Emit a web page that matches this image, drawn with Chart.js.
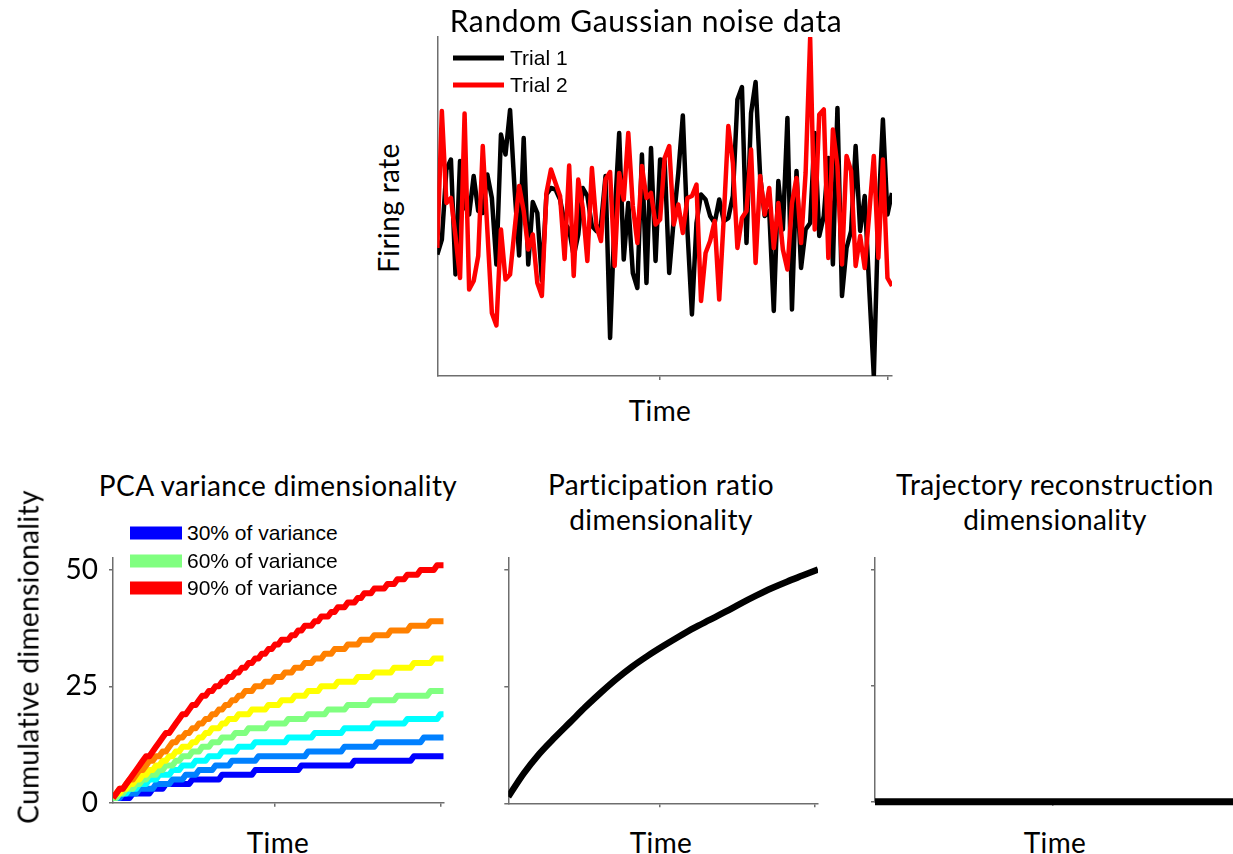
<!DOCTYPE html>
<html>
<head>
<meta charset="utf-8">
<script src="https://cdn.jsdelivr.net/npm/chart.js@4.4.0/dist/chart.umd.min.js"></script>
<style>
  html, body { margin: 0; padding: 0; background: #fff; width: 1233px; height: 854px; overflow: hidden; position: relative; }
  canvas { position: absolute; }
  .t { position: absolute; transform: translate(-50%, -50%); font-family: Lato, sans-serif; font-size: 28px; letter-spacing: 0.4px; color: #000; white-space: nowrap; text-align: center; line-height: 35px; }
  .rot { transform: translate(-50%, -50%) rotate(-90deg); }
  .lg { position: absolute; font-family: "Liberation Sans", Arial, sans-serif; font-size: 21px; white-space: nowrap; transform: translateY(-50%); }
  .sw { position: absolute; transform: translateY(-50%); }
</style>
</head>
<body>

<canvas id="noiseChart" width="470" height="356" style="left:430px;top:30px"></canvas>
<canvas id="pcaChart" width="420" height="262" style="left:40px;top:550px"></canvas>
<canvas id="prChart" width="340" height="262" style="left:495px;top:550px"></canvas>
<canvas id="trajChart" width="400" height="262" style="left:862px;top:550px"></canvas>

<div class="t" style="left:646px;top:20px;font-size:30px;letter-spacing:0.6px">Random Gaussian noise data</div>
<div class="t rot" style="left:388px;top:208px">Firing rate</div>
<div class="t" style="left:660px;top:410px">Time</div>

<div class="sw" style="left:453px;top:58px;width:51px;height:5px;background:#000"></div>
<div class="lg" style="left:510px;top:58px">Trial 1</div>
<div class="sw" style="left:453px;top:85px;width:51px;height:5px;background:#f00"></div>
<div class="lg" style="left:510px;top:85px">Trial 2</div>

<div class="t" style="left:278px;top:485px">PCA variance dimensionality</div>
<div class="t" style="left:661px;top:502px">Participation ratio<br>dimensionality</div>
<div class="t" style="left:1055px;top:502px">Trajectory reconstruction<br>dimensionality</div>
<div class="t rot" style="left:28px;top:657px">Cumulative dimensionality</div>
<div class="t" style="left:278px;top:842px">Time</div>
<div class="t" style="left:661px;top:842px">Time</div>
<div class="t" style="left:1055px;top:842px">Time</div>

<div class="sw" style="left:130px;top:533px;width:52px;height:13px;background:#0000ff"></div>
<div class="lg" style="left:187px;top:533px">30% of variance</div>
<div class="sw" style="left:130px;top:561px;width:52px;height:13px;background:#80ff80"></div>
<div class="lg" style="left:187px;top:561px">60% of variance</div>
<div class="sw" style="left:130px;top:588px;width:52px;height:13px;background:#ff0000"></div>
<div class="lg" style="left:187px;top:588px">90% of variance</div>

<script>
// time index shared by all panels (1..101)
const timeSteps = Array.from({ length: 101 }, (_, i) => i + 1);

// top panel: two trials of noise
const trial1 = [-0.98, -0.68, 0.72, 0.92, -1.38, 0.89, -0.01, -0.18, 0.59, -0.11,
  -0.15, 0.62, 0.15, -1.18, 1.42, 1.02, 1.91, 0.32, -1.0, 1.35,
  -1.18, 0.07, -0.15, -1.5, 0.22, 0.35, 0.32, 0.12, -0.35, -0.48,
  -1.01, -0.58, 0.35, 0.19, -0.41, -0.51, -0.38, 0.59, -2.65, -0.21,
  1.45, -1.08, 0.05, -1.35, -1.65, 1.02, -1.55, 1.15, -1.11, 0.92,
  0.89, -1.35, -0.28, 0.65, 1.8, -0.48, -2.18, -0.35, 0.22, 0.12,
  -0.21, -0.35, 0.12, -0.31, -0.25, 0.19, 2.12, 2.37, -0.75, 1.85,
  2.47, 0.59, -0.21, -0.11, -2.11, 0.49, -0.48, 1.75, -2.08, 0.69,
  -1.25, -0.48, -0.35, 1.45, -0.61, -0.21, 0.95, -1.18, 1.95, -1.81,
  -0.85, -0.51, 1.19, -0.51, 0.19, -1.68, -3.41, -0.18, 1.72, -0.18, 0.25];

const trial2 = [-0.85, 1.89, 0.05, 0.15, -0.61, -1.45, 1.84, -1.68, -1.51, -1.01,
  1.19, -0.48, -2.15, -2.4, -0.48, -1.48, -1.38, -0.48, 0.39, -0.11,
  -0.88, -0.58, -1.55, -1.81, 0.25, 0.72, 0.45, 0.19, -1.07, 0.8,
  -1.41, 0.52, -0.05, -1.11, 0.75, -0.41, -0.71, 0.52, 0.67, -1.21,
  0.65, 0.12, 1.45, -0.01, -0.75, 0.79, 0.15, 0.25, -0.38, -0.28,
  0.95, 1.19, -0.38, 0.02, -0.55, 0.15, 0.19, 0.42, -1.91, -0.95,
  -0.71, -0.31, -1.88, -0.25, 1.59, 0.85, -0.85, -0.25, -0.11, 1.12,
  -1.15, 0.59, -0.18, 0.35, -0.85, 0.05, -0.88, -1.28, 0.05, 0.55,
  -0.75, 0.65, 3.35, -0.48, 1.82, 1.92, -1.05, 1.52, 0.79, -1.18,
  0.99, 0.69, -1.21, -0.61, -1.25, -0.15, 0.99, -1.05, 0.92, -1.45, -1.61];

// bottom-left panel: cumulative PCA dimensionality per variance threshold
const pcaLabels = ['30%', '40%', '50%', '60%', '70%', '80%', '90%'];
const pcaColors = ['#0000ff', '#0080ff', '#00ffff', '#80ff80', '#ffff00', '#ff8000', '#ff0000'];
const pca30 = [1,1,1,1,1,1, 2,2,2,2,2,2, 3,3,3,3, 4,4,4,4,4,4,4,4, 5,5,5,5,5,5,5,5,5,
  6,6,6,6,6,6,6,6,6,6, 7,7,7,7,7,7,7,7,7,7,7,7,7,7, 8,8,8,8,8,8,8,8,8,8,8,8,8,8,8,8,
  9,9,9,9,9,9,9,9,9,9,9,9,9,9,9,9,9,9, 10,10,10,10,10,10,10,10,10,10];
const pca40 = [1,1,1, 2,2,2,2,2, 3,3,3,3,3, 4,4,4,4,4, 5,5,5,5, 6,6,6,6, 7,7,7,7,7, 8,8,8,8,8,
  9,9,9,9,9,9,9,9, 10,10,10,10,10,10,10,10,10,10,10,10,10,10,10, 11,11,11,11,11,11,11,11,11,11,11,
  12,12,12,12,12,12,12,12,12,12, 13,13,13,13,13,13,13,13,13,13,13,13,13,13, 14,14,14,14,14,14,14];
const pca50 = [1,1, 2,2,2, 3,3,3, 4,4,4, 5,5,5, 6,6,6,6, 7,7,7, 8,8,8,8, 9,9,9,9, 10,10,10,10,
  11,11,11,11,11, 12,12,12,12,12, 13,13,13,13,13,13,13,13,13,13, 14,14,14,14,14,14,14,14,
  15,15,15,15,15,15,15,15,15, 16,16,16,16,16,16,16,16,16, 17,17,17,17,17,17,17,17,17,17,
  18,18,18,18,18,18,18,18,18,18, 19,19];
const pca60 = [1,1, 2,2, 3,3,3, 4,4, 5,5, 6,6,6, 7,7, 8,8,8, 9,9, 10,10,10, 11,11,11, 12,12,12,
  13,13,13, 14,14,14,14, 15,15,15,15, 16,16,16,16,16,16, 17,17,17,17,17,17, 18,18,18,18,18,18,
  19,19,19,19,19,19, 20,20,20,20,20,20, 21,21,21,21,21,21,21, 22,22,22,22,22,22,22,22,
  23,23,23,23,23,23,23,23,23,23, 24,24,24,24,24];
const pca70 = [1, 2,2, 3,3, 4,4, 5,5, 6,6, 7,7, 8,8, 9,9, 10,10, 11,11, 12,12,12, 13,13, 14,14,
  15,15, 16,16,16, 17,17, 18,18,18, 19,19,19,19, 20,20,20,20,20, 21,21,21,21, 22,22,22,22,
  23,23,23,23, 24,24,24,24, 25,25,25,25,25, 26,26,26,26,26,26, 27,27,27,27,27,
  28,28,28,28,28,28, 29,29,29,29,29,29, 30,30,30,30,30,30, 31,31,31,31];
const pca80 = [1, 2, 3,3, 4, 5,5, 6, 7,7, 8, 9,9, 10,10, 11,11, 12, 13,13, 14,14, 15,15, 16,16,
  17,17, 18,18, 19,19, 20,20, 21,21, 22,22, 23,23, 24,24,24, 25,25,25, 26,26,26, 27,27,27,
  28,28,28, 29,29,29, 30,30,30, 31,31,31, 32,32,32, 33,33,33,33, 34,34,34,34, 35,35,35,35,
  36,36,36,36,36, 37,37,37,37,37,37, 38,38,38,38,38,38, 39,39,39,39,39];
const pca90 = [1, 2, 3,3, 4, 5, 6, 7, 8, 9, 10,10, 11, 12, 13, 14, 15,15, 16, 17, 18, 19,19, 20,
  21,21, 22, 23,23, 24,24, 25,25, 26,26, 27,27, 28,28, 29,29, 30,30, 31,31, 32,32, 33,33,
  34,34, 35,35,35, 36,36, 37,37, 38,38,38, 39,39, 40,40,40, 41,41, 42,42,42, 43,43,43,
  44,44, 45,45,45, 46,46,46,46, 47,47,47, 48,48,48, 49,49,49,49, 50,50,50,50,50, 51,51,51,51, 52];
const pcaSeries = [pca30, pca40, pca50, pca60, pca70, pca80, pca90];

// bottom-middle panel: participation ratio, sampled every 5 time steps
const prTime = [1, 6, 11, 16, 21, 26, 31, 36, 41, 46, 51, 56, 61, 66, 71, 76, 81, 86, 91, 96, 101];
const prValues = [1.4, 6.4, 10.6, 14.1, 17.4, 20.7, 23.8, 26.7, 29.3, 31.6, 33.7,
  35.7, 37.6, 39.3, 41.0, 42.8, 44.5, 46.1, 47.5, 48.8, 50.1];

// bottom-right panel: trajectory reconstruction stays at zero
const trajTime = [1, 101];
const trajValues = [0, 0];

const axisColor = '#6e6e6e';

function toPoints(xs, ys) {
  return xs.map((x, i) => ({ x: x, y: ys[i] }));
}

function makeChart(id, datasets, cfg) {
  return new Chart(document.getElementById(id), {
    type: 'line',
    data: { datasets: datasets },
    options: {
      responsive: false,
      animation: false,
      events: [],
      layout: { padding: { top: cfg.padTop, right: cfg.padRight, left: 0, bottom: 0 } },
      plugins: { legend: { display: false }, tooltip: { enabled: false } },
      elements: {
        point: { radius: 0 },
        line: { tension: 0, borderJoinStyle: 'round', borderCapStyle: 'butt' }
      },
      scales: {
        x: {
          type: 'linear',
          min: 1,
          max: 101,
          afterBuildTicks: s => { s.ticks = [50, 100].map(v => ({ value: v })); },
          afterFit: s => { s.height = cfg.xH; s.paddingLeft = 0; s.paddingRight = 0; },
          ticks: { display: false },
          grid: { drawOnChartArea: false, tickLength: 4, color: axisColor, lineWidth: 1.5 },
          border: { color: axisColor, width: 1.5 }
        },
        y: {
          type: 'linear',
          min: cfg.yMin,
          max: cfg.yMax,
          afterBuildTicks: s => { s.ticks = cfg.yTicks.map(v => ({ value: v })); },
          afterFit: s => { s.width = cfg.yW; s.paddingTop = 0; s.paddingBottom = 0; },
          ticks: cfg.yLabels
            ? { display: true, padding: 11, color: '#000', font: { family: 'Lato', size: 28 } }
            : { display: false },
          grid: { drawOnChartArea: false, tickLength: 4, color: axisColor, lineWidth: 1.5 },
          border: { color: axisColor, width: 1.5 }
        }
      }
    }
  });
}

// Random Gaussian noise data
makeChart('noiseChart', [
  { label: 'Trial 2', data: toPoints(timeSteps, trial2), borderColor: '#ff0000', borderWidth: 4.5, order: 0 },
  { label: 'Trial 1', data: toPoints(timeSteps, trial1), borderColor: '#000000', borderWidth: 4.5, order: 1 }
], { padTop: 7, padRight: 8, xH: 10, yW: 7.3, yMin: -3.41, yMax: 3.37, yTicks: [], yLabels: false });

// PCA variance dimensionality
makeChart('pcaChart', pcaSeries.map((vals, k) => ({
  label: pcaLabels[k] + ' of variance',
  data: toPoints(timeSteps, vals),
  borderColor: pcaColors[k],
  borderWidth: 6,
  order: pcaSeries.length - k
})), { padTop: 8, padRight: 16.3, xH: 9.3, yW: 73, yMin: 0, yMax: 52.58, yTicks: [0, 25, 50], yLabels: true });

// Participation ratio dimensionality
makeChart('prChart', [
  { label: 'Participation ratio', data: toPoints(prTime, prValues), borderColor: '#000', borderWidth: 6.5, cubicInterpolationMode: 'monotone' }
], { padTop: 8, padRight: 17, xH: 8.7, yW: 13.3, yMin: 0, yMax: 52.57, yTicks: [0, 25, 50], yLabels: false });

// Trajectory reconstruction dimensionality
makeChart('trajChart', [
  { label: 'Trajectory reconstruction', data: toPoints(trajTime, trajValues), borderColor: '#000', borderWidth: 7, clip: false }
], { padTop: 8, padRight: 23.7, xH: 10.3, yW: 13, yMin: 0, yMax: 52.6, yTicks: [0, 25, 50], yLabels: false });
</script>
</body>
</html>
